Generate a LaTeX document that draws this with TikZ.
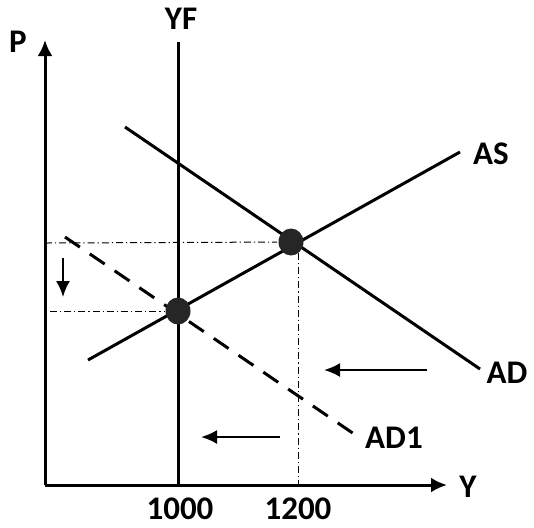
\documentclass[tikz,border=0pt]{standalone}
\usepackage{fontspec}
\setmainfont{Carlito}
\usetikzlibrary{arrows.meta}
\usetikzlibrary{shapes.geometric}
\begin{document}
\begin{tikzpicture}[x=0.5pt, y=-0.5pt, line width=1.5pt, font=\fontsize{16.5}{19}\selectfont\bfseries,
  lbl/.style = {inner sep=0pt},
  dot/.style = {fill=black!85, ellipse, minimum width=12.5pt, minimum height=13.5pt, inner sep=0pt},
  guide/.style = {line width=0.5pt, dash pattern=on 3.5pt off 1.5pt on 0.6pt off 1.5pt},
  shiftarr/.style = {line width=1.1pt, -{Latex[length=8pt, width=7pt]}},
  axis/.style = {-{Latex[length=8pt, width=7.5pt]}}]
\useasboundingbox (0,0) rectangle (534,527);
% axes
\coordinate (O) at (45,485);
\coordinate (ytop) at (45,40);
\coordinate (xend) at (447,485);
\draw[axis] (O) -- (ytop);
\draw[axis] (O) -- (xend);
\node[lbl] (p) at (18,42) {P};
\node[lbl] (y) at (468,487) {Y};
% full employment output
\coordinate (yf1) at (178,42);
\coordinate (yf0) at (178,485);
\draw (yf0) -- (yf1);
\node[lbl] (yf) at (181,19) {YF};
% AS and AD curves
\coordinate (as0) at (88,360);
\coordinate (as1) at (460,152);
\coordinate (ad0) at (125,127);
\coordinate (ad1) at (480,369);
\coordinate (adb0) at (65,237);
\coordinate (adb1) at (357,436);
\draw (as0) -- (as1);
\draw (ad0) -- (ad1);
\draw[dash pattern=on 9pt off 6pt] (adb0) -- (adb1);
\node[lbl] (as) at (491,154) {AS};
\node[lbl] (ad) at (507,373) {AD};
\node[lbl] (adb) at (394,438) {AD1};
% equilibria
\node[dot] (e1) at (291,242) {};
\node[dot] (e2) at (178,311) {};
\coordinate (p1) at (45,243);
\coordinate (p2) at (50,311);
\coordinate (g1) at (298,253);
\coordinate (g0) at (298,485);
\draw[guide] (p1) -- (e1);
\draw[guide] (p2) -- (e2);
\draw[guide] (g1) -- (g0);
\node[lbl] (t1) at (180,509) {1000};
\node[lbl] (t2) at (298,509) {1200};
% shifts
\coordinate (d0) at (63,258);
\coordinate (d1) at (63,297);
\draw[shiftarr] (d0) -- (d1);
\coordinate (l0) at (427,370);
\coordinate (l1) at (324,370);
\draw[shiftarr] (l0) -- (l1);
\coordinate (m0) at (280,437);
\coordinate (m1) at (201,437);
\draw[shiftarr] (m0) -- (m1);
\end{tikzpicture}
\end{document}
